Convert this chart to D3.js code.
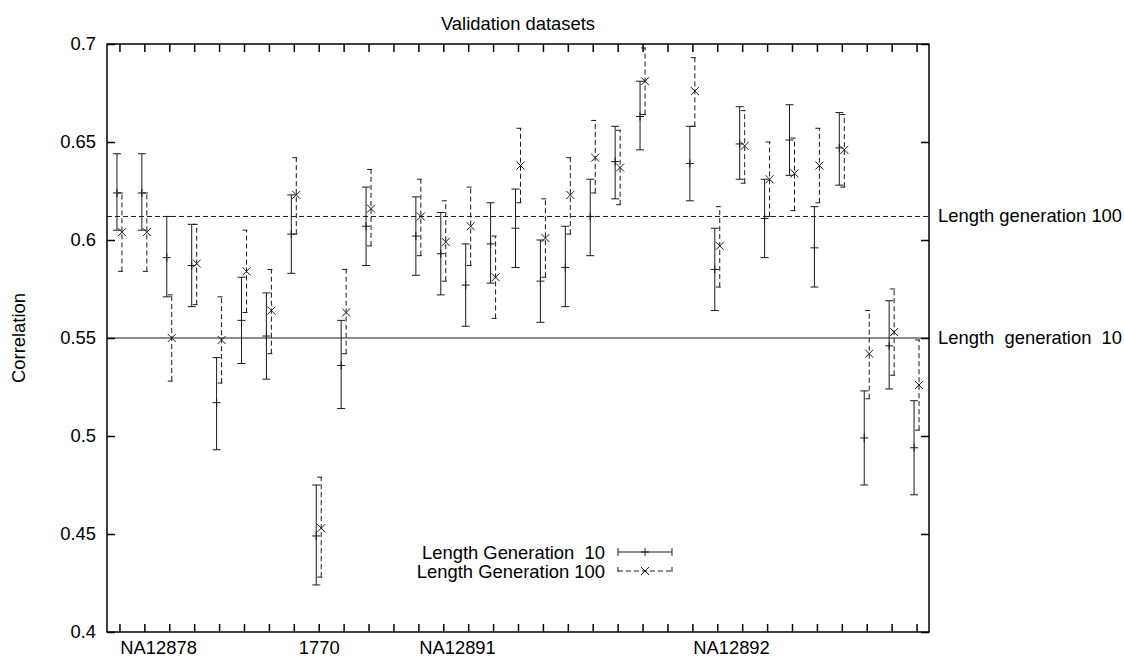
<!DOCTYPE html>
<html><head><meta charset="utf-8">
<script src="https://cdn.jsdelivr.net/npm/d3@7"></script>
<style>
body{margin:0;background:#fff}
svg text{font-family:"Liberation Sans",Arial,Helvetica,sans-serif;font-size:18.4px;fill:#000;white-space:pre}
</style>
</head><body>
<svg id="chart" width="1124" height="657"></svg>
<script>
// ---- data ----
const positions = [1,2,3,4,5,6,7,8,9,10,11,13,14,15,16,17,18,19,20,21,22,24,25,26,27,28,29,30,31,32,33];
const gen10     = [0.624,0.624,0.591,0.587,0.517,0.559,0.551,0.603,0.449,0.536,0.607,0.602,0.593,0.577,0.598,0.606,0.579,0.586,0.612,0.640,0.663,0.639,0.585,0.649,0.611,0.651,0.596,0.647,0.499,0.546,0.494];
const gen10Low  = [0.605,0.605,0.571,0.566,0.493,0.537,0.529,0.583,0.424,0.514,0.587,0.582,0.572,0.556,0.578,0.586,0.558,0.566,0.592,0.621,0.646,0.620,0.564,0.631,0.591,0.633,0.576,0.628,0.475,0.524,0.470];
const gen10High = [0.644,0.644,0.612,0.608,0.540,0.581,0.573,0.623,0.475,0.559,0.627,0.622,0.614,0.598,0.619,0.626,0.600,0.607,0.631,0.658,0.681,0.658,0.606,0.668,0.631,0.669,0.617,0.665,0.523,0.569,0.518];
const gen100     = [0.604,0.604,0.550,0.588,0.549,0.584,0.564,0.623,0.453,0.563,0.616,0.612,0.599,0.607,0.581,0.638,0.601,0.623,0.642,0.637,0.681,0.676,0.597,0.648,0.631,0.634,0.638,0.646,0.542,0.553,0.526];
const gen100Low  = [0.584,0.584,0.528,0.567,0.527,0.563,0.542,0.603,0.428,0.542,0.597,0.592,0.579,0.587,0.560,0.619,0.581,0.603,0.624,0.618,0.664,0.658,0.576,0.629,0.612,0.615,0.619,0.627,0.519,0.531,0.503];
const gen100High = [0.624,0.624,0.572,0.608,0.571,0.605,0.585,0.642,0.479,0.585,0.636,0.631,0.620,0.627,0.602,0.657,0.621,0.642,0.661,0.656,0.698,0.693,0.617,0.666,0.650,0.652,0.657,0.664,0.564,0.575,0.549];
const refLines = [0.612, 0.55];
const refLabels = ["Length generation 100", "Length  generation  10"];
const seriesNames = ["Length Generation  10", "Length Generation 100"];
const xTickLabels = ["NA12878", "1770", "NA12891", "NA12892"];
const xTickLabelPos = [2.55, 9, 14.55, 25.55];
const yTicks = [0.4, 0.45, 0.5, 0.55, 0.6, 0.65, 0.7];
const yTickLabels = ["0.4", "0.45", "0.5", "0.55", "0.6", "0.65", "0.7"];
const xMinorTicks = d3.range(1, 34);

// ---- layout ----
const L = 107, R = 929, T = 44, B = 632;
const svg = d3.select("#chart");
const x = d3.scaleLinear().domain([0.5, 33.5]).range([L, R]);
const y = d3.scaleLinear().domain([0.4, 0.7]).range([B, T]);
const off = 0.1, cap = 4, mk = 4;
const dash = "5,3";
const lineCol = "#1a1a1a";

// axes
const gL = svg.append("g").attr("transform", `translate(${L},0)`)
  .call(d3.axisLeft(y).tickValues(yTicks).tickSize(-8).tickPadding(11)
    .tickFormat((d,i) => yTickLabels[i]));
const gR = svg.append("g").attr("transform", `translate(${R},0)`)
  .call(d3.axisRight(y).tickValues(yTicks).tickSize(-8).tickFormat(""));
const gT = svg.append("g").attr("transform", `translate(0,${T})`)
  .call(d3.axisTop(x).tickValues(xMinorTicks).tickSize(-8).tickFormat(""));
const gB = svg.append("g").attr("transform", `translate(0,${B})`)
  .call(d3.axisBottom(x).tickValues(xMinorTicks).tickSize(-8).tickFormat(""));
const gBL = svg.append("g").attr("transform", `translate(0,${B})`)
  .call(d3.axisBottom(x).tickValues(xTickLabelPos).tickSize(0).tickPadding(9)
    .tickFormat((d,i) => xTickLabels[i]));
[gL,gR,gT,gB,gBL].forEach(g => {
  g.select(".domain").remove();
  g.selectAll("line").attr("stroke","#000").attr("stroke-width",1.5);
  g.selectAll("text").attr("font-size","18.4px").attr("font-family",'"Liberation Sans",Arial,sans-serif').attr("fill","#000");
});
gBL.selectAll("line").remove();

// reference lines
svg.selectAll(".ref").data(refLines).enter().append("line")
  .attr("x1", L).attr("x2", R)
  .attr("y1", d => y(d)).attr("y2", d => y(d))
  .attr("stroke", lineCol).attr("stroke-width", 1)
  .attr("stroke-dasharray", (d,i) => i === 0 ? dash : null);
svg.selectAll(".refLab").data(refLines).enter().append("text")
  .attr("x", R + 9).attr("y", d => y(d) + 6)
  .text((d,i) => refLabels[i]);

// series drawing
function drawSeries(vals, lo, hi, dx, dashed, marker) {
  const g = svg.append("g").attr("stroke", lineCol).attr("stroke-width", 1).attr("fill","none");
  positions.forEach((p, i) => {
    const cx = x(p + dx);
    const path = d3.path();
    path.moveTo(cx, y(lo[i])); path.lineTo(cx, y(hi[i]));
    path.moveTo(cx - cap, y(hi[i])); path.lineTo(cx + cap, y(hi[i]));
    path.moveTo(cx - cap, y(lo[i])); path.lineTo(cx + cap, y(lo[i]));
    g.append("path").attr("d", path.toString())
      .attr("stroke-dasharray", dashed ? dash : null);
    const cy = y(vals[i]);
    const m = d3.path();
    if (marker === "+") {
      m.moveTo(cx - mk, cy); m.lineTo(cx + mk, cy);
      m.moveTo(cx, cy - mk); m.lineTo(cx, cy + mk);
    } else {
      m.moveTo(cx - mk, cy - mk); m.lineTo(cx + mk, cy + mk);
      m.moveTo(cx - mk, cy + mk); m.lineTo(cx + mk, cy - mk);
    }
    g.append("path").attr("d", m.toString());
  });
}
drawSeries(gen10, gen10Low, gen10High, -off, false, "+");
drawSeries(gen100, gen100Low, gen100High, off, true, "x");

// legend
const legX1 = 618, legX2 = 672, legTextX = 605;
const legRows = [552, 571];
seriesNames.forEach((name, i) => {
  const ly = legRows[i];
  svg.append("text").attr("x", legTextX).attr("y", ly + 7)
    .attr("text-anchor", "end").text(name);
  const g = svg.append("g").attr("stroke", lineCol).attr("stroke-width", 1).attr("fill","none");
  const p = d3.path();
  p.moveTo(legX1, ly); p.lineTo(legX2, ly);
  p.moveTo(legX1, ly - cap); p.lineTo(legX1, ly + cap);
  p.moveTo(legX2, ly - cap); p.lineTo(legX2, ly + cap);
  g.append("path").attr("d", p.toString()).attr("stroke-dasharray", i === 1 ? dash : null);
  const cx = (legX1 + legX2) / 2;
  const m = d3.path();
  if (i === 0) {
    m.moveTo(cx - mk, ly); m.lineTo(cx + mk, ly);
    m.moveTo(cx, ly - mk); m.lineTo(cx, ly + mk);
  } else {
    m.moveTo(cx - mk, ly - mk); m.lineTo(cx + mk, ly + mk);
    m.moveTo(cx - mk, ly + mk); m.lineTo(cx + mk, ly - mk);
  }
  g.append("path").attr("d", m.toString());
});

// border
svg.append("rect").attr("x", L).attr("y", T).attr("width", R - L).attr("height", B - T)
  .attr("fill", "none").attr("stroke", "#000").attr("stroke-width", 1.5);

// title and y label
svg.append("text").attr("x", (L + R) / 2).attr("y", 30).attr("text-anchor", "middle")
  .text("Validation datasets");
svg.append("text").attr("transform", `translate(25,${(T + B) / 2}) rotate(-90)`)
  .attr("text-anchor", "middle").text("Correlation");
</script>
</body></html>
